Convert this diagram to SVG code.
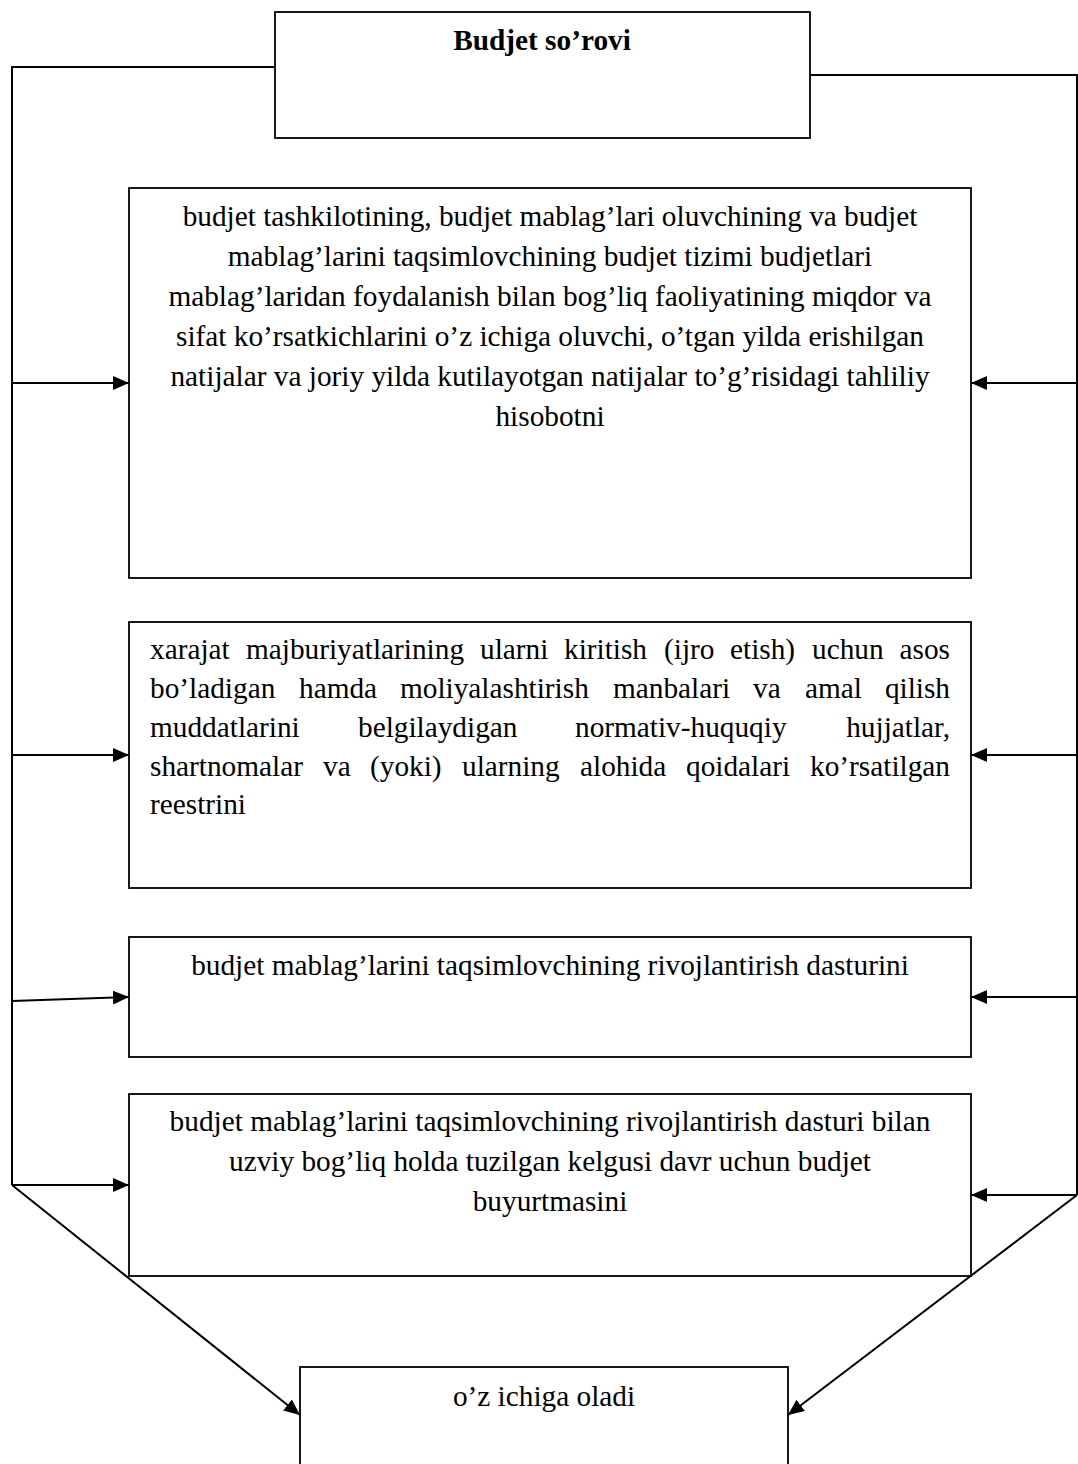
<svg xmlns="http://www.w3.org/2000/svg" width="1078" height="1464" viewBox="0 0 1078 1464">
  <style>
    .box { fill: #ffffff; stroke: #000000; stroke-width: 1.8; }
    .txt { font-family: "Liberation Serif", "Times New Roman", serif; font-size: 29.3px; fill: #000000; }
    .ctr { text-anchor: middle; }
    .end { text-anchor: end; }
    .bold { font-weight: bold; }
    .line { fill: none; stroke: #000000; stroke-width: 2; }
    .arr { fill: none; stroke: #000000; stroke-width: 2; marker-end: url(#head); }
  </style>
  <defs>
    <marker id="head" markerUnits="userSpaceOnUse" markerWidth="16" markerHeight="14" refX="16" refY="7" orient="auto">
      <path d="M0,0 L16,7 L0,14 Z" fill="#000000"/>
    </marker>
  </defs>
  <rect width="1078" height="1464" fill="#ffffff"/>

  <!-- connectors -->
  <g id="connectors">
    <polyline class="line" points="275,67 12,67 12,1185"/>
    <polyline class="line" points="810,75 1077,75 1077,1195"/>
    <line class="arr" x1="12" y1="383" x2="129" y2="383"/>
    <line class="arr" x1="12" y1="755" x2="129" y2="755"/>
    <line class="arr" x1="12" y1="1001" x2="129" y2="997"/>
    <line class="arr" x1="12" y1="1185" x2="129" y2="1185"/>
    <line class="arr" x1="1077" y1="383" x2="971" y2="383"/>
    <line class="arr" x1="1077" y1="755" x2="971" y2="755"/>
    <line class="arr" x1="1077" y1="997" x2="971" y2="997"/>
    <line class="arr" x1="1077" y1="1195" x2="971" y2="1195"/>
    <line class="arr" x1="12" y1="1185" x2="300" y2="1415"/>
    <line class="arr" x1="1077" y1="1195" x2="788" y2="1415"/>
  </g>

  <!-- request header -->
  <g id="node-request">
    <rect class="box" x="275" y="12" width="535" height="126"/>
    <text class="txt ctr bold" x="542" y="50">Budjet so’rovi</text>
  </g>

  <!-- analytical report -->
  <g id="node-report">
    <rect class="box" x="129" y="188" width="842" height="390"/>
    <text class="txt ctr" x="550" y="226">budjet tashkilotining, budjet mablag’lari oluvchining va budjet</text>
    <text class="txt ctr" x="550" y="266">mablag’larini taqsimlovchining budjet tizimi budjetlari</text>
    <text class="txt ctr" x="550" y="306">mablag’laridan foydalanish bilan bog’liq faoliyatining miqdor va</text>
    <text class="txt ctr" x="550" y="346">sifat ko’rsatkichlarini o’z ichiga oluvchi, o’tgan yilda erishilgan</text>
    <text class="txt ctr" x="550" y="386">natijalar va joriy yilda kutilayotgan natijalar to’g’risidagi tahliliy</text>
    <text class="txt ctr" x="550" y="426">hisobotni</text>
  </g>

  <!-- register of obligations (justified) -->
  <g id="node-register">
    <rect class="box" x="129" y="622" width="842" height="266"/>
    <text class="txt" y="659"><tspan x="150">xarajat</tspan><tspan x="246">majburiyatlarining</tspan><tspan x="480">ularni</tspan><tspan x="564">kiritish</tspan><tspan x="664">(ijro</tspan><tspan x="730">etish)</tspan><tspan x="812">uchun</tspan></text>
    <text class="txt end" x="950" y="659">asos</text>
    <text class="txt" y="698"><tspan x="150">bo’ladigan</tspan><tspan x="299">hamda</tspan><tspan x="400">moliyalashtirish</tspan><tspan x="613">manbalari</tspan><tspan x="753">va</tspan><tspan x="805">amal</tspan></text>
    <text class="txt end" x="950" y="698">qilish</text>
    <text class="txt" y="737"><tspan x="150">muddatlarini</tspan><tspan x="358">belgilaydigan</tspan><tspan x="575">normativ-huquqiy</tspan></text>
    <text class="txt end" x="950" y="737">hujjatlar,</text>
    <text class="txt" y="776"><tspan x="150">shartnomalar</tspan><tspan x="323">va</tspan><tspan x="370">(yoki)</tspan><tspan x="462">ularning</tspan><tspan x="580">alohida</tspan><tspan x="686">qoidalari</tspan></text>
    <text class="txt end" x="950" y="776">ko’rsatilgan</text>
    <text class="txt" x="150" y="814">reestrini</text>
  </g>

  <!-- development programme -->
  <g id="node-programme">
    <rect class="box" x="129" y="937" width="842" height="120"/>
    <text class="txt ctr" x="550" y="975">budjet mablag’larini taqsimlovchining rivojlantirish dasturini</text>
  </g>

  <!-- budget order -->
  <g id="node-order">
    <rect class="box" x="129" y="1094" width="842" height="182"/>
    <text class="txt ctr" x="550" y="1131">budjet mablag’larini taqsimlovchining rivojlantirish dasturi bilan</text>
    <text class="txt ctr" x="550" y="1171">uzviy bog’liq holda tuzilgan kelgusi davr uchun budjet</text>
    <text class="txt ctr" x="550" y="1211">buyurtmasini</text>
  </g>

  <!-- result -->
  <g id="node-includes">
    <rect class="box" x="300" y="1367" width="488" height="110"/>
    <text class="txt ctr" x="544" y="1406">o’z ichiga oladi</text>
  </g>
</svg>
